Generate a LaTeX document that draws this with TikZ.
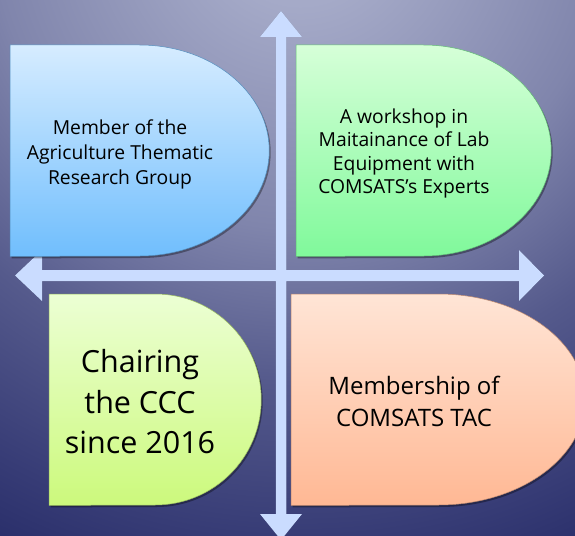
\documentclass[tikz,border=0pt]{standalone}
\usepackage{fontspec}
\setmainfont{Open Sans}
\usetikzlibrary{calc}
\definecolor{arrowc}{RGB}{202,220,255}
\definecolor{tlA}{RGB}{214,236,255}\definecolor{tlB}{RGB}{112,190,253}
\definecolor{trA}{RGB}{214,255,216}\definecolor{trB}{RGB}{128,249,155}
\definecolor{blA}{RGB}{236,255,212}\definecolor{blB}{RGB}{204,249,124}
\definecolor{brA}{RGB}{255,229,214}\definecolor{brB}{RGB}{255,184,148}
\definecolor{bgA}{RGB}{172,176,206}
\definecolor{bgB}{RGB}{165,170,200}
\definecolor{bgC}{RGB}{128,133,172}
\definecolor{bgD}{RGB}{85,90,140}
\definecolor{bgE}{RGB}{55,60,118}
\definecolor{bgF}{RGB}{40,45,105}
\pgfdeclareradialshading{bgshade}{\pgfpoint{0bp}{0bp}}{%
  color(0bp)=(bgA); color(3bp)=(bgB); color(11bp)=(bgC); color(16.5bp)=(bgD);
  color(22bp)=(bgE); color(25bp)=(bgF)}
\newcommand\dbox[7]{% name, left, top, width, height, top colour, bottom colour
  \node[boxframe, minimum width=#4pt, minimum height=#5pt, anchor=north west] (#1) at (#2,#3) {};
  \fill[black, opacity=0.35] ([shift={(1.5pt,-2pt)}]#1.north west) -- ([shift={(1.5pt,-2pt)}]#1.north)
     arc[start angle=90, end angle=-90, x radius={0.5*#4pt}, y radius={0.5*#5pt}]
     -- ([shift={(1.5pt,-2pt)}]#1.south west) -- cycle;
  \path[top color=#6, bottom color=#7, draw=#7!75!black, line width=0.5pt]
     (#1.north west) -- (#1.north)
     arc[start angle=90, end angle=-90, x radius={0.5*#4pt}, y radius={0.5*#5pt}]
     -- (#1.south west) -- cycle;
}
\tikzset{
  boxframe/.style={draw=none, inner sep=0pt},
  boxtext/.style={align=center, text=black, inner sep=0pt},
  crossarrow/.style={fill=arrowc},
  crossshadow/.style={fill=black, opacity=0.3},
}
\begin{document}
\begin{tikzpicture}[x=1pt, y=-1pt]
\useasboundingbox (0,0) rectangle (575,535);
\begin{scope}
\clip (0,0) rectangle (575,535);
\path[shading=bgshade] (300,-80) circle[radius=700pt];
\end{scope}
% cross arrows
\coordinate (upT) at (281,11);
\coordinate (dnT) at (281,540);
\coordinate (lfT) at (15,275.5);
\coordinate (rtT) at (544,275.5);
\foreach \s/\st in {{(1.2pt,-1.5pt)}/crossshadow, {(0pt,0pt)}/crossarrow}{
  \path[\st, shift={\s}]
    (upT) -- ++(21,26) -- ++(-15.75,0) |- ($(rtT)+(-25,-5.5)$) -- ++(0,-20) -- (rtT)
    -- ++(-25,25.5) -- ++(0,-20) -| ($(dnT)+(5.25,-26)$) -- ++(15.75,0) -- (dnT)
    -- ++(-21,-26) -- ++(15.75,0) |- ($(lfT)+(27,5.5)$) -- ++(0,20) -- (lfT)
    -- ++(27,-25.5) -- ++(0,20) -| ($(upT)+(-5.25,26)$) -- ++(-15.75,0) -- cycle;
}
% boxes
\dbox{b1}{10}{45}{259}{211}{tlA}{tlB}
\dbox{b2}{296}{45}{255}{211}{trA}{trB}
\dbox{b3}{49}{294}{212}{211}{blA}{blB}
\dbox{b4}{291}{294}{294}{211}{brA}{brB}
% texts
\node[boxtext, font={\fontsize{19.3}{25}\selectfont}] (t1) at (120,154)
  {Member of the\\Agriculture Thematic\\Research Group};
\node[boxtext, font={\fontsize{19.3}{23.4}\selectfont}] (t2) at (404,153.5)
  {A workshop in\\Maitainance of Lab\\Equipment with\\COMSATS’s Experts};
\node[boxtext, font={\fontsize{30.5}{40.5}\selectfont}] (t3) at (140,402)
  {Chairing\\the CCC\\since 2016};
\node[boxtext, font={\fontsize{24}{32}\selectfont}] (t4) at (414,401.5)
  {Membership of\\COMSATS TAC};
\end{tikzpicture}
\end{document}
